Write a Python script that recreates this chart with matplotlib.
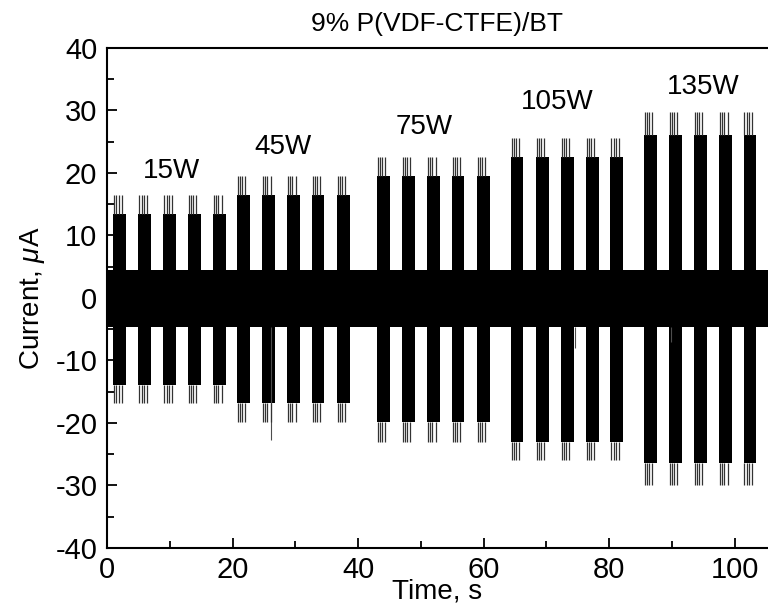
import matplotlib
matplotlib.use('Agg')
import matplotlib.pyplot as plt
from matplotlib.ticker import MultipleLocator
import numpy as np

plt.rcParams["font.family"] = "Liberation Sans"
plt.rcParams["mathtext.fontset"] = "custom"
plt.rcParams["mathtext.it"] = "Liberation Sans:italic"
plt.rcParams["mathtext.rm"] = "Liberation Sans"
plt.rcParams["axes.unicode_minus"] = False

# Power levels and start time of each stimulus burst (s)
powers = ['15W', '45W', '75W', '105W', '135W']
burst_starts = [
    [1.0, 5.0, 9.0, 12.9, 16.9],
    [20.7, 24.7, 28.7, 32.6, 36.6],
    [43.0, 47.0, 51.0, 54.9, 58.9],
    [64.3, 68.3, 72.3, 76.3, 80.2],
    [85.5, 89.5, 93.5, 97.5, 101.4],
]
burst_width = 2.05

# envelope of the current during bursts (uA)
block_top = [13.5, 16.5, 19.5, 22.6, 26.0]
block_bot = [-13.9, -16.8, -19.8, -23.0, -26.4]
spike_top = [16.5, 19.5, 22.6, 25.6, 29.8]
spike_bot = [-16.8, -19.8, -23.0, -26.0, -30.0]
spike_offsets = [0.15, 0.5, 0.85, 1.35]

# baseline noise band (uA)
t_span = [0.0, 106.0]
band_lo = -4.7
band_hi = 4.4
glitch_t = [26.2, 74.6, 89.9]
glitch_lo = [-22.7, -8.0, -7.0]

label_x = [10.3, 28.0, 50.5, 71.7, 95.0]
label_y = [20.3, 24.2, 27.4, 31.4, 33.8]

fig = plt.figure(figsize=(7.68, 6.12), dpi=100)
ax = fig.add_axes([0.1393, 0.1046, 0.8607, 0.817])

ax.fill_between(t_span, band_lo, band_hi, color='k', lw=0)
ax.vlines(glitch_t, glitch_lo, band_lo, color='0.3', lw=0.8)

for i, starts in enumerate(burst_starts):
    ax.bar(starts, block_top[i] - block_bot[i], bottom=block_bot[i],
           width=burst_width, align='edge', color='k', lw=0)
    for s in starts:
        xs = [s + o for o in spike_offsets]
        ax.vlines(xs, block_top[i], spike_top[i], color='0.2', lw=0.9)
        ax.vlines(xs, spike_bot[i], block_bot[i], color='0.2', lw=0.9)
    ax.text(label_x[i], label_y[i], powers[i], fontsize=20,
            ha='center', va='center')

ax.set_xlim(0, 105.3)
ax.set_ylim(-40, 40)
ax.xaxis.set_major_locator(MultipleLocator(20))
ax.xaxis.set_minor_locator(MultipleLocator(10))
ax.yaxis.set_major_locator(MultipleLocator(10))
ax.yaxis.set_minor_locator(MultipleLocator(5))
ax.tick_params(which='both', direction='in', top=False, right=False,
               labelsize=21, width=1.3)
ax.tick_params(which='major', length=7)
ax.tick_params(which='minor', length=5)
ax.tick_params(axis='x', which='major', pad=6)
ax.tick_params(axis='y', which='major', pad=7)
ax.spines['right'].set_visible(False)
for sp in ['left', 'bottom', 'top']:
    ax.spines[sp].set_linewidth(1.5)

ax.set_xlabel('Time, s', fontsize=20, labelpad=-4)
ax.set_ylabel(r'Current, $\mu$A', fontsize=20, labelpad=6)
ax.set_title('9% P(VDF-CTFE)/BT', fontsize=19, pad=12)

plt.savefig('out.png', dpi=100)
